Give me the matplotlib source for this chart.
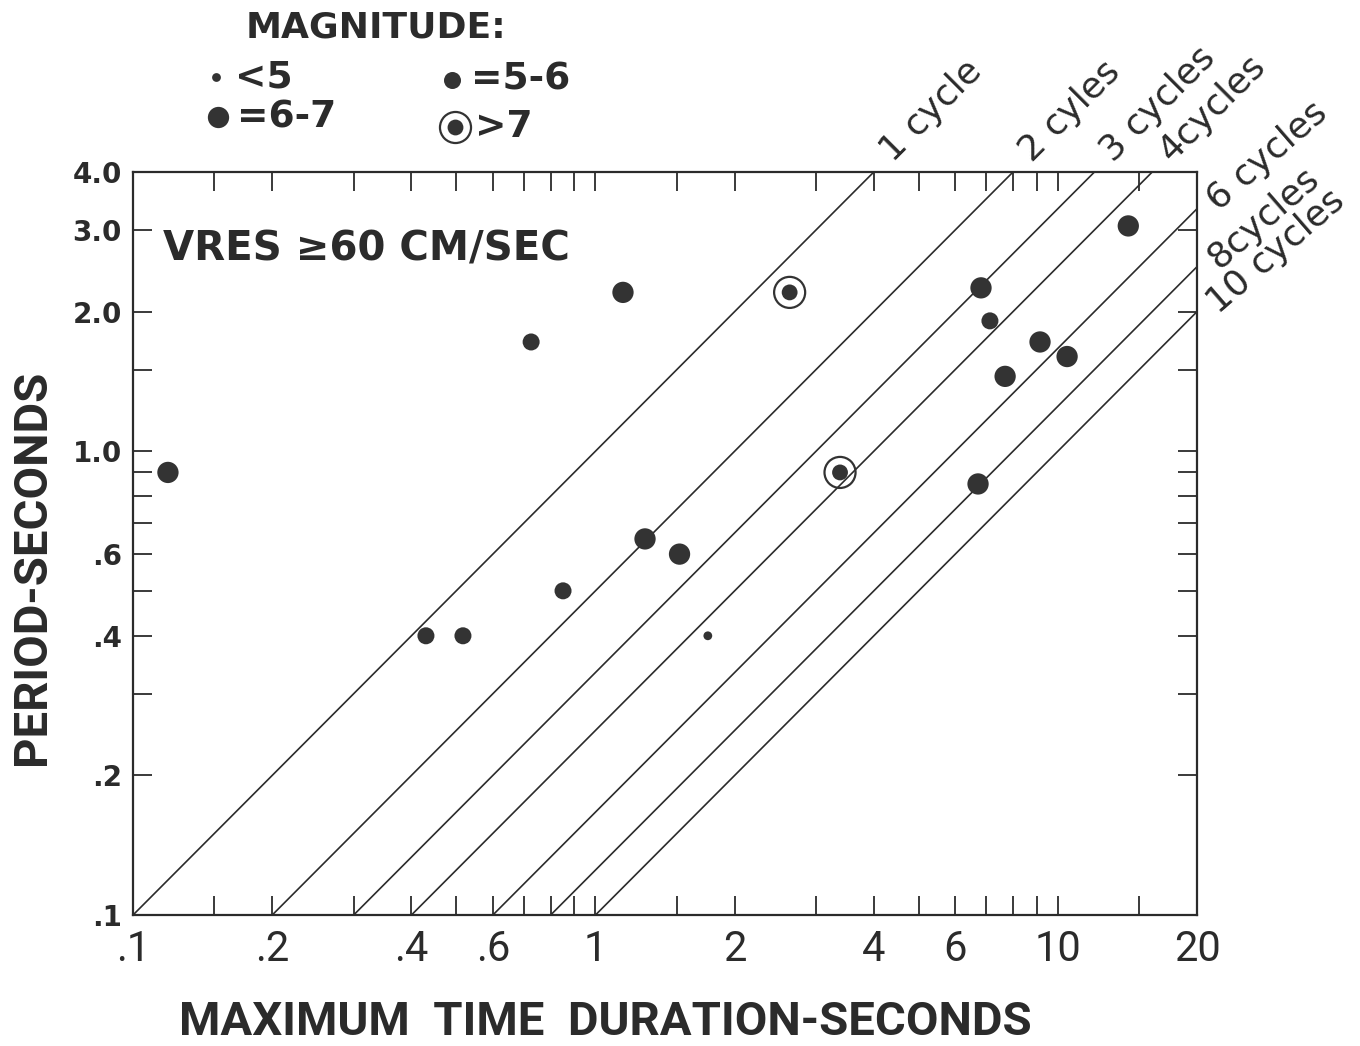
import matplotlib

matplotlib.use("Agg")
import matplotlib.pyplot as plt
from matplotlib.lines import Line2D
from matplotlib.ticker import FixedLocator, FixedFormatter, NullFormatter
import matplotlib.transforms as mtransforms

# ---- data ----
duration = [0.119, 0.43, 0.517, 0.726, 0.851, 1.147, 1.28, 1.52, 1.75,
            2.63, 3.38, 6.82, 7.13, 7.69, 9.15, 10.47, 6.72, 14.2]
period = [0.90, 0.40, 0.40, 1.72, 0.50, 2.20, 0.647, 0.60, 0.40,
          2.20, 0.90, 2.25, 1.91, 1.45, 1.72, 1.60, 0.85, 3.06]
magnitude = ["6-7", "5-6", "5-6", "5-6", "5-6", "6-7", "6-7", "6-7", "<5",
             ">7", ">7", "6-7", "5-6", "6-7", "6-7", "6-7", "6-7", "6-7"]

cycle_counts = [1, 2, 3, 4, 6, 8, 10]
cycle_labels = ["1 cycle", "2 cyles", "3 cycles", "4cycles",
                "6 cycles", "8cycles", "10 cycles"]

x_major = [0.1, 0.2, 0.4, 0.6, 1, 2, 4, 6, 10, 20]
x_major_labels = [".1", ".2", ".4", ".6", "1", "2", "4", "6", "10", "20"]
x_minor = [0.15, 0.3, 0.5, 0.7, 0.8, 0.9, 1.5, 3, 5, 7, 8, 9, 15]
y_major = [0.1, 0.2, 0.4, 0.6, 1.0, 2.0, 3.0, 4.0]
y_major_labels = [".1", ".2", ".4", ".6", "1.0", "2.0", "3.0", "4.0"]
y_minor = [0.3, 0.5, 0.7, 0.8, 0.9, 1.5]

INK = "#2b2b2b"
DOT = "#333333"
NARROW = ["Roboto", "DejaVu Sans"]

sizes = {"<5": 40, "5-6": 150, "6-7": 235, ">7": 130}

fig = plt.figure(figsize=(13.6, 10.46), dpi=100)
ax = fig.add_axes([0.0978, 0.1252, 0.7824, 0.7104])
ax.set_xscale("log")
ax.set_yscale("log")
ax.set_xlim(0.1, 20)
ax.set_ylim(0.1, 4.0)

# constant-cycle lines: period = duration / n
for n in cycle_counts:
    x0 = 0.1 * n
    x1 = min(20.0, 4.0 * n)
    ax.plot([x0, x1], [x0 / n, x1 / n], color=INK, lw=1.2, zorder=2)

for n, lab in zip(cycle_counts, cycle_labels):
    x1 = min(20.0, 4.0 * n)
    y1 = x1 / n
    if x1 < 20:
        dx, dy, rot = 24, 4, 45
    else:
        dx, dy, rot = 26, -8, 41
    off = mtransforms.offset_copy(ax.transData, fig=fig, x=dx, y=dy, units="dots")
    ax.text(x1, y1, lab, transform=off, rotation=rot, rotation_mode="anchor",
            ha="left", va="bottom", fontsize=26, color=INK, clip_on=False)

# data points
for mag in ["<5", "5-6", "6-7", ">7"]:
    xs = [d for d, m in zip(duration, magnitude) if m == mag]
    ys = [p for p, m in zip(period, magnitude) if m == mag]
    ax.scatter(xs, ys, s=sizes[mag], color=DOT, edgecolor="none", zorder=4)
    if mag == ">7":
        ax.scatter(xs, ys, s=500, facecolor="none", edgecolor=DOT,
                   linewidth=1.6, zorder=4)

# ticks
ax.xaxis.set_major_locator(FixedLocator(x_major))
ax.xaxis.set_major_formatter(FixedFormatter(x_major_labels))
ax.xaxis.set_minor_locator(FixedLocator(x_minor))
ax.xaxis.set_minor_formatter(NullFormatter())
ax.yaxis.set_major_locator(FixedLocator(y_major))
ax.yaxis.set_major_formatter(FixedFormatter(y_major_labels))
ax.yaxis.set_minor_locator(FixedLocator(y_minor))
ax.yaxis.set_minor_formatter(NullFormatter())
for which in ("major", "minor"):
    ax.tick_params(which=which, direction="in", length=14, width=1.3,
                   color=INK, top=True, right=True)
ax.tick_params(axis="x", which="major", pad=10, labelsize=30, labelcolor=INK)
ax.tick_params(axis="y", which="major", pad=8, labelsize=20, labelcolor=INK)
for t in ax.get_xticklabels():
    t.set_family(NARROW)
for t in ax.get_yticklabels():
    t.set_fontweight("bold")
for sp in ax.spines.values():
    sp.set_linewidth(1.6)
    sp.set_color(INK)

ax.text(0.028, 0.895, "VRES \u226560 CM/SEC", transform=ax.transAxes,
        fontsize=29, fontweight="bold", color=INK, va="center", ha="left")

# axis titles
fig.text(0.445, 0.023, "MAXIMUM  TIME  DURATION-SECONDS", ha="center",
         va="center", fontsize=34, fontweight="bold", color=INK, family=NARROW)
fig.text(0.0235, 0.458, "PERIOD-SECONDS", rotation=90, ha="center",
         va="center", fontsize=34, fontweight="bold", color=INK, family=NARROW)

# magnitude key
fig.text(0.2765, 0.974, "MAGNITUDE:", ha="center", va="center", fontsize=26,
         fontweight="bold", color=INK)
key = [("<5", 216, 77, "<5"), ("5-6", 452, 80, "=5-6"),
       ("6-7", 218, 117, "=6-7"), (">7", 455, 127, ">7")]
H, W = 1046.0, 1360.0
for mag, px, py, txt in key:
    fx, fy = px / W, 1 - py / H
    ms = sizes[mag] ** 0.5
    fig.add_artist(Line2D([fx], [fy], marker="o", ms=ms, color=DOT,
                          mec="none", transform=fig.transFigure))
    if mag == ">7":
        fig.add_artist(Line2D([fx], [fy], marker="o", ms=500 ** 0.5,
                              mfc="none", mec=DOT, mew=1.6,
                              transform=fig.transFigure))
    fig.text(fx + (0.014 if mag != ">7" else 0.015), fy, txt, ha="left",
             va="center", fontsize=27, fontweight="bold", color=INK)

fig.savefig("out.png", dpi=100, facecolor="white")
